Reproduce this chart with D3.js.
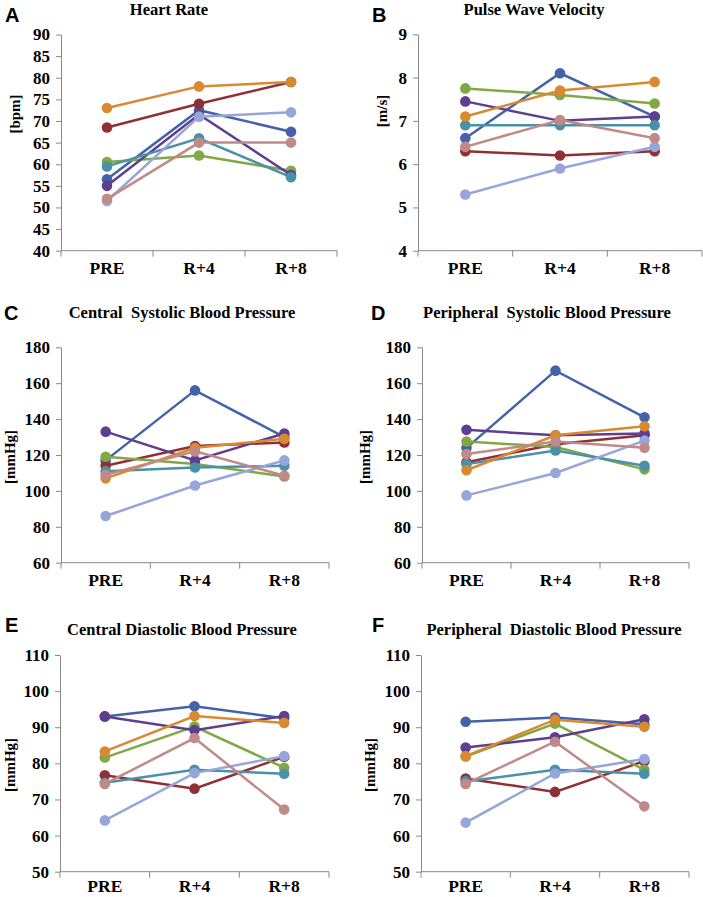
<!DOCTYPE html>
<html>
<head>
<meta charset="utf-8">
<script src="https://cdn.jsdelivr.net/npm/d3@7"></script>
<style>
  html, body { margin: 0; padding: 0; background: #fff; }
  svg { display: block; }
</style>
</head>
<body>
<svg id="chart" width="703" height="897"></svg>
<script>
// ---------- data ----------
const categories = ["PRE", "R+4", "R+8"];
const seriesNames = ["S1", "S2", "S3", "S4", "S5", "S6", "S7", "S8"];
const seriesColors = ["#4462aa", "#8e3035", "#82a845", "#5e3e8e", "#4a91a8", "#d98a30", "#97a6da", "#c08a88"];

// order: dark blue, dark red, green, purple, teal, orange, light blue, pink
const heartRate = [
  [56.5, 72.5, 67.5],
  [68.5, 74, 79],
  [60.5, 62, 58.5],
  [55, 71.5, 57.5],
  [59.5, 66, 57],
  [73, 78, 79],
  [51.5, 71, 72],
  [52, 65, 65]
];
const pulseWaveVelocity = [
  [6.6, 8.1, 7.1],
  [6.3, 6.2, 6.3],
  [7.75, 7.6, 7.4],
  [7.45, 7.0, 7.1],
  [6.9, 6.9, 6.9],
  [7.1, 7.7, 7.9],
  [5.3, 5.9, 6.4],
  [6.4, 7.02, 6.6]
];
const centralSystolic = [
  [117, 156, 130],
  [114, 125, 127],
  [119, 115, 108],
  [133, 117, 132],
  [111, 113, 114],
  [107, 124, 129],
  [86, 103, 117],
  [109, 122, 108.5]
];
const peripheralSystolic = [
  [124, 167, 141],
  [116, 126, 131],
  [127.5, 124.5, 112],
  [134, 131, 132],
  [115, 122.5, 114],
  [111.5, 131, 136],
  [97.5, 110, 128],
  [120.5, 127.5, 124]
];
const centralDiastolic = [
  [93, 95.8, 92.5],
  [76.7, 73, 81.8],
  [81.6, 90.2, 78.8],
  [93, 89.2, 93.1],
  [74.6, 78.2, 77.1],
  [83.3, 93.1, 91.2],
  [64.2, 77.3, 82],
  [74.3, 87, 67.2]
];
const peripheralDiastolic = [
  [91.5, 92.7, 90.8],
  [75.8, 72.1, 80.6],
  [81.9, 91, 78.2],
  [84.4, 87.2, 92.2],
  [75, 78.2, 77.1],
  [82, 92.1, 90.1],
  [63.6, 77.2, 81.2],
  [74.3, 86, 68.1]
];

const titles = ["Heart Rate", "Pulse Wave Velocity", "Central  Systolic Blood Pressure",
  "Peripheral  Systolic Blood Pressure", "Central Diastolic Blood Pressure", "Peripheral  Diastolic Blood Pressure"];
const letters = ["A", "B", "C", "D", "E", "F"];
const yLabels = ["[bpm]", "[m/s]", "[mmHg]", "[mmHg]", "[mmHg]", "[mmHg]"];
const yTicksA = [40, 45, 50, 55, 60, 65, 70, 75, 80, 85, 90];
const yTicksB = [4, 5, 6, 7, 8, 9];
const yTicksSys = [60, 80, 100, 120, 140, 160, 180];
const yTicksDia = [50, 60, 70, 80, 90, 100, 110];
const datasets = [heartRate, pulseWaveVelocity, centralSystolic, peripheralSystolic, centralDiastolic, peripheralDiastolic];
const tickSets = [yTicksA, yTicksB, yTicksSys, yTicksSys, yTicksDia, yTicksDia];

// ---------- layout ----------
const layout = [
  { x0: 61,  x1: 337, yTop: 34.5,  yBot: 250.7, xlOff: 23, titleX: 169, titleY: 15,  letterX: 5,   letterY: 22,  ylX: 15,  ylY: 114 },
  { x0: 418, x1: 702, yTop: 34.3,  yBot: 250.7, xlOff: 23, titleX: 534, titleY: 15,  letterX: 372, letterY: 22,  ylX: 382, ylY: 111 },
  { x0: 61,  x1: 329, yTop: 347.3, yBot: 562.7, xlOff: 23, titleX: 182, titleY: 318, letterX: 4,   letterY: 320, ylX: 10,  ylY: 457 },
  { x0: 422, x1: 689, yTop: 347.3, yBot: 562.7, xlOff: 23, titleX: 547, titleY: 318, letterX: 371, letterY: 320, ylX: 365, ylY: 457 },
  { x0: 60,  x1: 329, yTop: 655,   yBot: 871.7, xlOff: 20, titleX: 182, titleY: 635, letterX: 5,   letterY: 632, ylX: 10,  ylY: 765 },
  { x0: 421, x1: 689, yTop: 655,   yBot: 871.7, xlOff: 20, titleX: 554, titleY: 635, letterX: 372, letterY: 632, ylX: 370, ylY: 765 }
];

const svg = d3.select("#chart");
const serif = "'Liberation Serif', 'Times New Roman', serif";
const sans = "'Liberation Sans', Arial, sans-serif";
const axisColor = "#888888";

datasets.forEach((data, i) => {
  const L = layout[i];
  const ticks = tickSets[i];
  const g = svg.append("g");

  const x = d3.scaleBand().domain(categories).range([L.x0, L.x1]);
  const y = d3.scaleLinear().domain([ticks[0], ticks[ticks.length - 1]]).range([L.yBot, L.yTop]);

  // y axis
  const yAxis = d3.axisLeft(y).tickValues(ticks).tickFormat(d3.format("d"))
    .tickSize(5).tickPadding(6).tickSizeOuter(0);
  const ya = g.append("g").attr("transform", `translate(${L.x0},0)`).call(yAxis)
    .attr("font-family", serif).attr("font-size", 17).attr("font-weight", "bold");
  ya.select(".domain").attr("stroke", axisColor).attr("stroke-width", 1);
  ya.selectAll(".tick line").attr("stroke", axisColor);
  ya.selectAll(".tick text").attr("fill", "#000").style("font-family", serif)
    .style("font-weight", "bold").style("font-size", "17px");

  // x axis: line with boundary ticks
  const xa = g.append("g");
  xa.append("line").attr("x1", L.x0).attr("x2", L.x1).attr("y1", L.yBot).attr("y2", L.yBot)
    .attr("stroke", axisColor);
  const bounds = categories.map(c => x(c)).concat([L.x1]);
  xa.selectAll("line.b").data(bounds).enter().append("line").attr("class", "b")
    .attr("x1", d => d).attr("x2", d => d).attr("y1", L.yBot).attr("y2", L.yBot + 6)
    .attr("stroke", axisColor);
  xa.selectAll("text").data(categories).enter().append("text")
    .attr("x", d => x(d) + x.bandwidth() / 2).attr("y", L.yBot + L.xlOff)
    .attr("text-anchor", "middle").style("font-family", serif).style("font-weight", "bold")
    .style("font-size", "17.5px").text(d => d);

  // lines and markers
  const line = d3.line().x((d, j) => x(categories[j]) + x.bandwidth() / 2).y(d => y(d));
  data.forEach((vals, s) => {
    const sg = g.append("g");
    sg.append("path").attr("d", line(vals)).attr("fill", "none")
      .attr("stroke", seriesColors[s]).attr("stroke-width", 2.5);
    sg.selectAll("circle").data(vals).enter().append("circle")
      .attr("cx", (d, j) => x(categories[j]) + x.bandwidth() / 2).attr("cy", d => y(d))
      .attr("r", 5.3).attr("fill", seriesColors[s]);
  });

  // title
  g.append("text").attr("x", L.titleX).attr("y", L.titleY).attr("text-anchor", "middle")
    .style("font-family", serif).style("font-weight", "bold").style("font-size", "16.5px")
    .style("white-space", "pre").text(titles[i]);
  // letter
  g.append("text").attr("x", L.letterX).attr("y", L.letterY)
    .style("font-family", sans).style("font-weight", "bold").style("font-size", "20px").text(letters[i]);
  // y label
  g.append("text").attr("transform", `translate(${L.ylX},${L.ylY}) rotate(-90)`)
    .attr("text-anchor", "middle").attr("dy", "0.35em")
    .style("font-family", serif).style("font-weight", "bold").style("font-size", "15px").text(yLabels[i]);
});
</script>
</body>
</html>
